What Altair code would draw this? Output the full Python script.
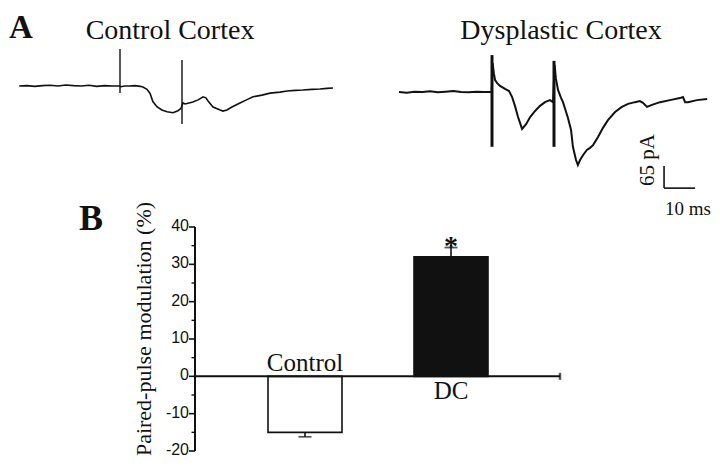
import altair as alt
import pandas as pd

# ---------------- data ----------------
# Panel A, control cortex trace: time (ms), current (pA)
ctrl_t = [-2.5, 0, 2.5, 5, 7.5, 10, 12.5, 15, 17.5, 20, 22.5, 25, 27.5, 29.8,
          30.3, 31.5, 33.2, 34.8, 36.5, 37.4, 38.7, 39.7, 40.6, 41.9, 43.5, 45.2,
          47.1, 48.7, 49.7, 50.3, 51.0, 53.5, 55.2, 56.8, 57.7, 58.4, 60.0, 62.3,
          63.2, 64.5, 66.1, 68.7, 70.8, 72.9, 75.8, 78.4, 81.6, 83.9, 86.5, 89.0,
          91.9, 94.5, 96.8, 98.7]
ctrl_i = [0, 1, -1, 1, 2, 0, 3, 1, 0, 2, -1, 1, 0, 0,
          -2, 0, 0, 1, -1, -3, -10, -22, -46, -61, -71, -76,
          -79, -73, -66, -50, -53, -47, -41, -32, -35, -44, -62, -71,
          -74, -71, -62, -50, -41, -32, -27, -21, -18, -15, -13, -12,
          -10, -9, -7, -6]
ctrl_stim_t = [30, 50]
ctrl_stim_top = [109, 77]
ctrl_stim_bot = [-21, -112]

# Panel A, dysplastic cortex trace
dys_t = [0, 2.5, 5, 7.5, 10, 12.5, 15, 17.5, 20, 22.5, 25, 27.5, 29.9,
         30.2, 30.6, 31.0, 31.6, 32.6, 34.2, 35.5, 36.5, 37.4, 38.4, 39.7,
         41.0, 42.3, 43.9, 45.5, 47.1, 48.7, 49.7,
         50.2, 50.6, 51.3, 52.3, 52.9, 53.9, 54.5, 55.5, 56.1, 57.1, 57.7,
         58.4, 59.4, 60.6, 61.6, 62.6, 64.2, 65.8, 67.4, 69.7, 71.9, 73.9,
         76.1, 77.7, 78.7, 80.0, 81.6, 84.2, 87.4, 90.6, 91.6, 92.3, 93.2,
         96.1, 99.4]
dys_i = [0, -2, 1, 0, 2, -1, 1, 3, 0, -1, 1, 0, 0,
         85, 55, 35, 27, 18, 9, 3, -15, -41, -74, -109,
         -95, -74, -56, -41, -30, -24, -30,
         80, 40, 6, -18, -30, -59, -77, -112, -162, -201, -216,
         -201, -186, -171, -165, -157, -133, -106, -83, -59, -44, -35,
         -30, -27, -32, -44, -38, -30, -24, -18, -15, -30, -30,
         -24, -21]
dys_stim_t = [30, 50]
dys_stim_top = [109, 92]
dys_stim_bot = [-162, -162]

# scale bar (drawn in the dysplastic trace's units)
scalebar_t0 = 85.5
scalebar_i0 = -284
scalebar_ms = 10
scalebar_pA = 65

# Panel B
groups = ["Control", "DC"]
ppm_mean = [-15, 32]
ppm_err = [-16.2, 34.5]
ppm_sig = ["", "*"]
y_ticks = [-20, -10, 0, 10, 20, 30, 40]
y_minor = [-15, -5, 5, 15, 25, 35]

# ---------------- frames ----------------
INK = "#111111"
SERIF = "Liberation Serif"
SANS = "Liberation Sans"


def qscale(domain, rng):
    return alt.Scale(domain=domain, range=rng, nice=False, zero=False)


cx = qscale([0, 100], [19, 329])
cy = qscale([-300, 150], [179.54, 27.23])
dx = qscale([0, 100], [391, 701])
dy = qscale([-300, 150], [185.54, 33.23])
by = qscale([-20, 40], [443, 219])
bx = alt.Scale(type="band", domain=groups, range=[260, 480],
               paddingInner=0.4932, paddingOuter=0)

ctrl_df = pd.DataFrame({"t": ctrl_t, "i": ctrl_i})
ctrl_stim = pd.DataFrame({"t": ctrl_stim_t, "top": ctrl_stim_top, "bot": ctrl_stim_bot})
dys_df = pd.DataFrame({"t": dys_t, "i": dys_i})
dys_stim = pd.DataFrame({"t": dys_stim_t, "top": dys_stim_top, "bot": dys_stim_bot})
sb_df = pd.DataFrame({
    "t": [scalebar_t0, scalebar_t0],
    "t2": [scalebar_t0, scalebar_t0 + scalebar_ms],
    "i": [scalebar_i0, scalebar_i0],
    "i2": [scalebar_i0 + scalebar_pA, scalebar_i0],
})
bar_df = pd.DataFrame({"g": groups, "m": ppm_mean, "e": ppm_err, "sig": ppm_sig})
tick_df = pd.DataFrame({"v": y_ticks, "lab": [str(v) for v in y_ticks]})
minor_df = pd.DataFrame({"v": y_minor})
ONE = alt.Data(values=[{}])


def label(s, x, y, size, font=SERIF, weight="normal", angle=0, align="center",
          baseline="alphabetic"):
    return alt.Chart(alt.Data(values=[{"s": s}])).mark_text(
        font=font, fontSize=size, fontWeight=weight, angle=angle, align=align,
        baseline=baseline, color=INK
    ).encode(x=alt.value(x), y=alt.value(y), text="s:N")


layers = []

# --- traces ---
layers.append(alt.Chart(ctrl_df).mark_line(color=INK, strokeWidth=1.6).encode(
    x=alt.X("t:Q", scale=cx, axis=None), y=alt.Y("i:Q", scale=cy, axis=None)))
layers.append(alt.Chart(ctrl_stim).mark_rule(color=INK, strokeWidth=1.4).encode(
    x=alt.X("t:Q", scale=cx, axis=None), y=alt.Y("top:Q", scale=cy, axis=None), y2="bot:Q"))
layers.append(alt.Chart(dys_df).mark_line(color=INK, strokeWidth=2.0).encode(
    x=alt.X("t:Q", scale=dx, axis=None), y=alt.Y("i:Q", scale=dy, axis=None)))
layers.append(alt.Chart(dys_stim).mark_rule(color=INK, strokeWidth=3).encode(
    x=alt.X("t:Q", scale=dx, axis=None), y=alt.Y("top:Q", scale=dy, axis=None), y2="bot:Q"))
layers.append(alt.Chart(sb_df).mark_rule(color=INK, strokeWidth=1.6).encode(
    x=alt.X("t:Q", scale=dx, axis=None), x2="t2:Q",
    y=alt.Y("i:Q", scale=dy, axis=None), y2="i2:Q"))

# --- panel B ---
layers.append(alt.Chart(bar_df).mark_bar(stroke=INK, strokeWidth=1.6).encode(
    x=alt.X("g:N", scale=bx, axis=None),
    y=alt.Y("m:Q", scale=by, axis=None), y2=alt.Y2Datum(0),
    fill=alt.condition(alt.datum.g == "DC", alt.value(INK), alt.value("white"))))
layers.append(alt.Chart(bar_df).mark_rule(color=INK, strokeWidth=1.6).encode(
    x=alt.X("g:N", scale=bx, axis=None),
    y=alt.Y("m:Q", scale=by, axis=None), y2="e:Q"))
layers.append(alt.Chart(bar_df).mark_tick(color=INK, size=13, thickness=1.8,
                                          orient="horizontal").encode(
    x=alt.X("g:N", scale=bx, axis=None), y=alt.Y("e:Q", scale=by, axis=None)))
layers.append(alt.Chart(bar_df).mark_text(font=SERIF, fontSize=28, fontWeight="bold",
                                          color=INK, dy=-1).encode(
    x=alt.X("g:N", scale=bx, axis=None), y=alt.Y("e:Q", scale=by, axis=None),
    text="sig:N"))
layers.append(alt.Chart(bar_df).transform_filter(alt.datum.g == "Control").mark_text(
    font=SERIF, fontSize=25, color=INK, baseline="alphabetic", dy=-5).encode(
    x=alt.X("g:N", scale=bx, axis=None), y=alt.YDatum(0, scale=by, axis=None), text="g:N"))
layers.append(alt.Chart(bar_df).transform_filter(alt.datum.g == "DC").mark_text(
    font=SERIF, fontSize=25, color=INK, baseline="alphabetic", dy=23).encode(
    x=alt.X("g:N", scale=bx, axis=None), y=alt.YDatum(0, scale=by, axis=None), text="g:N"))

# y axis drawn by hand through the bar scale
layers.append(alt.Chart(ONE).mark_rule(color=INK, strokeWidth=2).encode(
    x=alt.value(187), y=alt.YDatum(-20, scale=by, axis=None), y2=alt.Y2Datum(40)))
layers.append(alt.Chart(ONE).mark_rule(color=INK, strokeWidth=2).encode(
    x=alt.value(187), x2=alt.value(552), y=alt.YDatum(0, scale=by, axis=None)))
layers.append(alt.Chart(ONE).mark_tick(color=INK, size=7, thickness=2.5,
                                       orient="vertical").encode(
    x=alt.value(552), y=alt.YDatum(0, scale=by, axis=None)))
layers.append(alt.Chart(tick_df).mark_rule(color=INK, strokeWidth=1.6).encode(
    x=alt.value(181), x2=alt.value(187), y=alt.Y("v:Q", scale=by, axis=None)))
layers.append(alt.Chart(minor_df).mark_rule(color=INK, strokeWidth=1.4).encode(
    x=alt.value(183.5), x2=alt.value(187), y=alt.Y("v:Q", scale=by, axis=None)))
layers.append(alt.Chart(tick_df).mark_text(font=SANS, fontSize=16, color=INK,
                                           align="right", baseline="middle", dy=-1).encode(
    x=alt.value(181), y=alt.Y("v:Q", scale=by, axis=None), text="lab:N"))

# --- text annotations ---
layers.append(label("A", 13, 30, 33, weight="bold"))
layers.append(label("Control Cortex", 162, 31, 28))
layers.append(label("Dysplastic Cortex", 553, 31, 28))
layers.append(label("B", 83, 222, 36, weight="bold"))
layers.append(label("Paired-pulse modulation (%)", 143, 321, 22, angle=270))
layers.append(label("65 pA", 646, 152, 21, angle=270))
layers.append(label("10 ms", 680, 207, 19))

chart = alt.layer(*layers).resolve_scale(x="independent", y="independent").properties(
    width=704, height=450, padding=0,
    autosize=alt.AutoSizeParams(type="none"),
    background="white",
).configure_view(stroke=None)

chart.save("out.html", embed_options={"renderer": "svg", "actions": False})
